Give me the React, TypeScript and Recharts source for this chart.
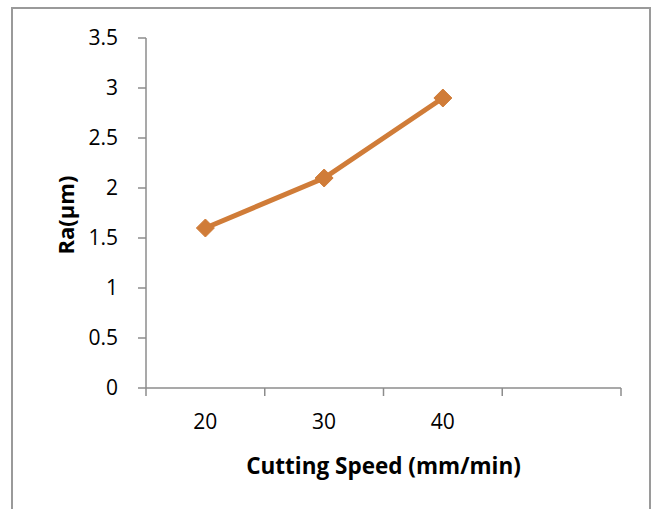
import { LineChart, Line, XAxis, YAxis, Label } from "recharts";

const speeds = ["20", "30", "40"];
const raValues = [1.6, 2.1, 2.9];
const slotCount = 4; // Excel-style category axis with one empty slot on the right
const yTicks = [0, 0.5, 1, 1.5, 2, 2.5, 3, 3.5];

const FONT = "'Open Sans', Lato, sans-serif";
const ORANGE = "#D07C38";
const AXIS = "#8c8c8c";

const chartData = raValues.map((v, i) => ({ pos: i + 0.5, ra: v }));

const xTicks: number[] = [];
for (let i = 0; i <= slotCount * 2; i++) xTicks.push(i / 2);

const XTick = (props: any) => {
    const { x, y, payload } = props;
    const v = payload.value as number;
    if (Number.isInteger(v)) {
        return <line x1={x} y1={y} x2={x} y2={y + 8} stroke={AXIS} strokeWidth={1.5} />;
    }
    const name = speeds[Math.floor(v)];
    if (!name) return null;
    return (
        <text x={x} y={y + 33} textAnchor="middle" dominantBaseline="central"
            fontFamily={FONT} fontSize={21} fill="#000">
            {name}
        </text>
    );
};

const Diamond = (props: any) => {
    const { cx, cy } = props;
    if (cx == null || cy == null) return null;
    const r = 9;
    return (
        <polygon
            points={`${cx},${cy - r} ${cx + r},${cy} ${cx},${cy + r} ${cx - r},${cy}`}
            fill={ORANGE}
            stroke={ORANGE}
            strokeWidth={1}
            strokeLinejoin="round"
        />
    );
};

export default function App() {
    return (
        <div style={{ position: "fixed", left: 0, top: 0, width: 652, height: 509, background: "#fff", overflow: "hidden" }}>
            {/* frame around the chart, bottom edge is off the page */}
            <div style={{
                position: "absolute", left: 11, top: 7, width: 636, height: 540,
                borderLeft: "2px solid #9a9a9a", borderTop: "2px solid #9a9a9a", borderRight: "2px solid #9a9a9a",
            }} />
            <div style={{ position: "absolute", left: 0, top: 0 }}>
                <LineChart width={652} height={509} data={chartData}
                    margin={{ top: 38, right: 31, left: 0, bottom: 41 }}>
                    <XAxis
                        dataKey="pos"
                        type="number"
                        domain={[0, slotCount]}
                        ticks={xTicks}
                        interval={0}
                        height={80}
                        tickSize={0}
                        tickMargin={0}
                        tickLine={false}
                        tick={<XTick />}
                        axisLine={{ stroke: AXIS, strokeWidth: 1.5 }}
                    >
                        <Label
                            content={(p: any) => {
                                const vb = p.viewBox;
                                return (
                                    <text x={vb.x + vb.width / 2} y={vb.y + 77} textAnchor="middle"
                                        dominantBaseline="central" fontFamily={FONT} fontSize={22.5}
                                        fontWeight="bold" fill="#000">
                                        Cutting Speed (mm/min)
                                    </text>
                                );
                            }}
                        />
                    </XAxis>
                    <YAxis
                        type="number"
                        domain={[0, 3.5]}
                        ticks={yTicks}
                        interval={0}
                        width={146}
                        tickSize={8}
                        tickMargin={20}
                        tick={{ fontFamily: FONT, fontSize: 21, fill: "#000" }}
                        tickLine={{ stroke: AXIS, strokeWidth: 1.5 }}
                        axisLine={{ stroke: AXIS, strokeWidth: 1.5 }}
                    >
                        <Label
                            content={(p: any) => {
                                const vb = p.viewBox;
                                const cx = vb.x + 65;
                                const cy = vb.y + vb.height / 2 + 2;
                                return (
                                    <text x={cx} y={cy} textAnchor="middle" dominantBaseline="central"
                                        transform={`rotate(-90 ${cx} ${cy})`} fontFamily={FONT}
                                        fontSize={22} fontWeight="bold" fill="#000">
                                        Ra(µm)
                                    </text>
                                );
                            }}
                        />
                    </YAxis>
                    <Line
                        type="linear"
                        dataKey="ra"
                        stroke={ORANGE}
                        strokeWidth={5}
                        dot={<Diamond />}
                        activeDot={false}
                        isAnimationActive={false}
                    />
                </LineChart>
            </div>
        </div>
    );
}
